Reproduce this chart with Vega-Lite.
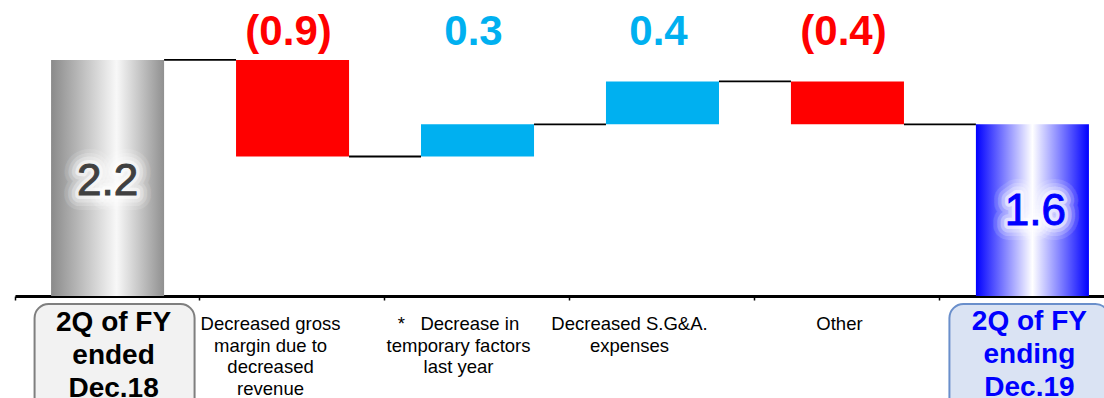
{
  "$schema": "https://vega.github.io/schema/vega-lite/v6.json",
  "width": 1089,
  "height": 398,
  "autosize": "none",
  "padding": {"left": 15, "top": 0, "right": 0, "bottom": 0},
  "background": "white",
  "config": {
    "view": {"stroke": null},
    "font": "Liberation Sans",
    "axisY": {"disable": true},
    "axisX": {
      "offset": -102,
      "labels": false,
      "grid": false,
      "domainColor": "#000000",
      "domainWidth": 3,
      "bandPosition": -0.319,
      "tickColor": "#000000",
      "tickSize": 4,
      "tickWidth": 1.5
    }
  },
  "datasets": {
    "bars": [
      {"cat": "A", "lo": 0, "hi": 2.2, "kind": "start", "val": "2.2"},
      {"cat": "B", "lo": 1.3, "hi": 2.2, "kind": "neg", "val": "(0.9)"},
      {"cat": "C", "lo": 1.3, "hi": 1.6, "kind": "pos", "val": "0.3"},
      {"cat": "D", "lo": 1.6, "hi": 2.0, "kind": "pos", "val": "0.4"},
      {"cat": "E", "lo": 1.6, "hi": 2.0, "kind": "neg", "val": "(0.4)"},
      {"cat": "F", "lo": 0, "hi": 1.6, "kind": "end", "val": "1.6"}
    ],
    "links": [
      {"from": "A", "to": "B", "level": 2.2},
      {"from": "B", "to": "C", "level": 1.3},
      {"from": "C", "to": "D", "level": 1.6},
      {"from": "D", "to": "E", "level": 2.0},
      {"from": "E", "to": "F", "level": 1.6}
    ],
    "cats": [
      {"cat": "A", "label": "2Q of FY\nended\nDec.18"},
      {"cat": "B", "label": "Decreased gross\nmargin due to\ndecreased\nrevenue"},
      {"cat": "C", "label": "*\u00a0\u00a0\u00a0Decrease in\ntemporary factors\nlast year"},
      {"cat": "D", "label": "Decreased S.G&A.\nexpenses"},
      {"cat": "E", "label": "Other"},
      {"cat": "F", "label": "2Q of FY\nending\nDec.19"}
    ]
  },
  "layer": [
    {
      "data": {"name": "links"},
      "mark": {"type": "rule", "color": "#000000", "strokeWidth": 1.8},
      "encoding": {
        "x": {"field": "from", "type": "nominal", "bandPosition": 1, "title": null,
              "scale": {"domain": ["A", "B", "C", "D", "E", "F"], "range": [0, 1110], "paddingInner": 0.389, "paddingOuter": 0.195}},
        "x2": {"field": "to", "bandPosition": 0},
        "y": {"field": "level", "type": "quantitative", "scale": {"domain": [-0.9506, 2.7586], "nice": false, "zero": false}}
      }
    },
    {
      "data": {"name": "bars"},
      "transform": [{"filter": "datum.kind === 'start'"}],
      "mark": {"type": "bar", "fill": {"gradient": "linear", "x1": 0, "x2": 1, "y1": 0, "y2": 0,
        "stops": [{"offset": 0, "color": "#8a8a8a"}, {"offset": 0.58, "color": "#f8f8f8"}, {"offset": 1, "color": "#909090"}]}},
      "encoding": {
        "x": {"field": "cat", "type": "nominal", "title": null},
        "y": {"field": "lo", "type": "quantitative", "scale": {"domain": [-0.9506, 2.7586], "nice": false, "zero": false}},
        "y2": {"field": "hi"}
      }
    },
    {
      "data": {"name": "bars"},
      "transform": [{"filter": "datum.kind === 'end'"}],
      "mark": {"type": "bar", "fill": {"gradient": "linear", "x1": 0, "x2": 1, "y1": 0, "y2": 0,
        "stops": [{"offset": 0, "color": "#0000ff"}, {"offset": 0.5, "color": "#ffffff"}, {"offset": 1, "color": "#0000ff"}]}},
      "encoding": {
        "x": {"field": "cat", "type": "nominal", "title": null},
        "y": {"field": "lo", "type": "quantitative", "scale": {"domain": [-0.9506, 2.7586], "nice": false, "zero": false}},
        "y2": {"field": "hi"}
      }
    },
    {
      "data": {"name": "bars"},
      "transform": [{"filter": "datum.kind === 'neg' || datum.kind === 'pos'"}],
      "mark": {"type": "bar"},
      "encoding": {
        "x": {"field": "cat", "type": "nominal", "title": null},
        "y": {"field": "lo", "type": "quantitative", "scale": {"domain": [-0.9506, 2.7586], "nice": false, "zero": false}},
        "y2": {"field": "hi"},
        "color": {"field": "kind", "type": "nominal", "legend": null,
                  "scale": {"domain": ["neg", "pos"], "range": ["#ff0000", "#00b0f0"]}}
      }
    },
    {
      "data": {"name": "bars"},
      "transform": [{"filter": "datum.kind === 'neg' || datum.kind === 'pos'"}],
      "mark": {"type": "text", "fontSize": 42, "fontWeight": "bold", "baseline": "alphabetic", "dx": -4},
      "encoding": {
        "x": {"field": "cat", "type": "nominal", "title": null},
        "y": {"datum": 2.339, "scale": {"domain": [-0.9506, 2.7586], "nice": false, "zero": false}},
        "text": {"field": "val"},
        "color": {"field": "kind", "type": "nominal", "legend": null}
      }
    },
    {
      "data": {"name": "bars"},
      "transform": [{"filter": "datum.kind === 'start'"}],
      "layer": [
        {"mark": {"type": "text", "fontSize": 44, "baseline": "alphabetic", "stroke": "#ffffff", "strokeWidth": 30, "strokeOpacity": 0.12, "strokeJoin": "round", "fill": "#ffffff"}},
        {"mark": {"type": "text", "fontSize": 44, "baseline": "alphabetic", "stroke": "#ffffff", "strokeWidth": 22, "strokeOpacity": 0.2, "strokeJoin": "round", "fill": "#ffffff"}},
        {"mark": {"type": "text", "fontSize": 44, "baseline": "alphabetic", "stroke": "#ffffff", "strokeWidth": 15, "strokeOpacity": 0.3, "strokeJoin": "round", "fill": "#ffffff"}},
        {"mark": {"type": "text", "fontSize": 44, "baseline": "alphabetic", "stroke": "#ffffff", "strokeWidth": 8, "strokeOpacity": 0.5, "strokeJoin": "round", "fill": "#ffffff"}},
        {"mark": {"type": "text", "fontSize": 44, "baseline": "alphabetic", "fill": "#404040", "stroke": "#404040", "strokeWidth": 1}}
      ],
      "encoding": {
        "x": {"field": "cat", "type": "nominal", "title": null},
        "y": {"datum": 0.941, "scale": {"domain": [-0.9506, 2.7586], "nice": false, "zero": false}},
        "text": {"field": "val"}
      }
    },
    {
      "data": {"name": "bars"},
      "transform": [{"filter": "datum.kind === 'end'"}],
      "layer": [
        {"mark": {"type": "text", "fontSize": 44, "baseline": "alphabetic", "dx": 3, "stroke": "#ffffff", "strokeWidth": 30, "strokeOpacity": 0.12, "strokeJoin": "round", "fill": "#ffffff"}},
        {"mark": {"type": "text", "fontSize": 44, "baseline": "alphabetic", "dx": 3, "stroke": "#ffffff", "strokeWidth": 22, "strokeOpacity": 0.2, "strokeJoin": "round", "fill": "#ffffff"}},
        {"mark": {"type": "text", "fontSize": 44, "baseline": "alphabetic", "dx": 3, "stroke": "#ffffff", "strokeWidth": 15, "strokeOpacity": 0.3, "strokeJoin": "round", "fill": "#ffffff"}},
        {"mark": {"type": "text", "fontSize": 44, "baseline": "alphabetic", "dx": 3, "stroke": "#ffffff", "strokeWidth": 8, "strokeOpacity": 0.5, "strokeJoin": "round", "fill": "#ffffff"}},
        {"mark": {"type": "text", "fontSize": 44, "baseline": "alphabetic", "dx": 3, "fill": "#0000ff", "stroke": "#0000ff", "strokeWidth": 1}}
      ],
      "encoding": {
        "x": {"field": "cat", "type": "nominal", "title": null},
        "y": {"datum": 0.662, "scale": {"domain": [-0.9506, 2.7586], "nice": false, "zero": false}},
        "text": {"field": "val"}
      }
    },
    {
      "data": {"name": "cats"},
      "transform": [{"filter": "datum.cat === 'A'"}],
      "layer": [
        {"mark": {"type": "bar", "width": 160, "xOffset": 7, "cornerRadius": 14, "fill": "#f2f2f2", "stroke": "#7f7f7f", "strokeWidth": 2},
         "encoding": {"y": {"datum": -0.075, "scale": {"domain": [-0.9506, 2.7586], "nice": false, "zero": false}}, "y2": {"datum": -1.2}}},
        {"mark": {"type": "text", "fontSize": 28, "fontWeight": "bold", "baseline": "alphabetic", "lineBreak": "\n", "lineHeight": 33, "dx": 6, "fill": "#000000"},
         "encoding": {"y": {"datum": -0.326, "scale": {"domain": [-0.9506, 2.7586], "nice": false, "zero": false}}, "text": {"field": "label"}}}
      ],
      "encoding": {"x": {"field": "cat", "type": "nominal", "title": null}}
    },
    {
      "data": {"name": "cats"},
      "transform": [{"filter": "datum.cat === 'F'"}],
      "layer": [
        {"mark": {"type": "bar", "width": 160, "xOffset": -3, "cornerRadius": 14, "fill": "#dae3f3", "stroke": "#6a8fcb", "strokeWidth": 2},
         "encoding": {"y": {"datum": -0.075, "scale": {"domain": [-0.9506, 2.7586], "nice": false, "zero": false}}, "y2": {"datum": -1.2}}},
        {"mark": {"type": "text", "fontSize": 28, "fontWeight": "bold", "baseline": "alphabetic", "lineBreak": "\n", "lineHeight": 33, "dx": -3, "fill": "#0000ff"},
         "encoding": {"y": {"datum": -0.3169, "scale": {"domain": [-0.9506, 2.7586], "nice": false, "zero": false}}, "text": {"field": "label"}}}
      ],
      "encoding": {"x": {"field": "cat", "type": "nominal", "title": null}}
    },
    {
      "data": {"name": "cats"},
      "transform": [{"filter": "datum.cat === 'B'"}],
      "mark": {"type": "text", "fontSize": 18.5, "baseline": "alphabetic", "lineBreak": "\n", "lineHeight": 21.5, "dx": -22, "fill": "#000000"},
      "encoding": {"x": {"field": "cat", "type": "nominal", "title": null},
                   "y": {"datum": -0.3169, "scale": {"domain": [-0.9506, 2.7586], "nice": false, "zero": false}}, "text": {"field": "label"}}
    },
    {
      "data": {"name": "cats"},
      "transform": [{"filter": "datum.cat === 'C'"}],
      "mark": {"type": "text", "fontSize": 18.5, "baseline": "alphabetic", "lineBreak": "\n", "lineHeight": 21.5, "dx": -19, "fill": "#000000"},
      "encoding": {"x": {"field": "cat", "type": "nominal", "title": null},
                   "y": {"datum": -0.3169, "scale": {"domain": [-0.9506, 2.7586], "nice": false, "zero": false}}, "text": {"field": "label"}}
    },
    {
      "data": {"name": "cats"},
      "transform": [{"filter": "datum.cat === 'D'"}],
      "mark": {"type": "text", "fontSize": 18.5, "baseline": "alphabetic", "lineBreak": "\n", "lineHeight": 21.5, "dx": -33, "fill": "#000000"},
      "encoding": {"x": {"field": "cat", "type": "nominal", "title": null},
                   "y": {"datum": -0.3169, "scale": {"domain": [-0.9506, 2.7586], "nice": false, "zero": false}}, "text": {"field": "label"}}
    },
    {
      "data": {"name": "cats"},
      "transform": [{"filter": "datum.cat === 'E'"}],
      "mark": {"type": "text", "fontSize": 18.5, "baseline": "alphabetic", "lineBreak": "\n", "lineHeight": 21.5, "dx": -8, "fill": "#000000"},
      "encoding": {"x": {"field": "cat", "type": "nominal", "title": null},
                   "y": {"datum": -0.3169, "scale": {"domain": [-0.9506, 2.7586], "nice": false, "zero": false}}, "text": {"field": "label"}}
    }
  ]
}
